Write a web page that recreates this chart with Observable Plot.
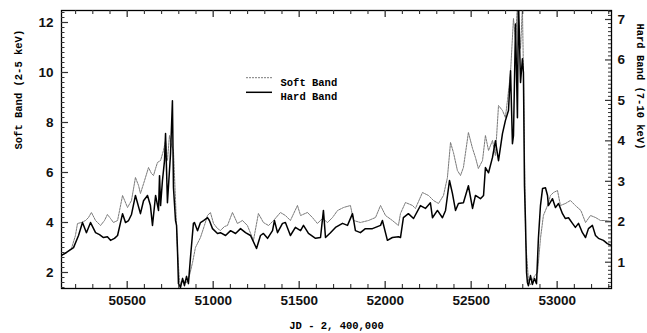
<!DOCTYPE html>
<html><head><meta charset="utf-8">
<script src="https://cdn.jsdelivr.net/npm/d3@7"></script>
<script src="https://cdn.jsdelivr.net/npm/@observablehq/plot@0.6"></script>
<style>body{margin:0;background:#fff} #chart svg{display:block}</style>
</head><body><div id="chart"></div>
<script>
// Soft band (2-5 keV), left axis
const jdSoft = [50118,50147,50176,50199,50211,50234,50258,50275,50292,50316,50345,50368,50385,50403,50420,50444,50473,50502,50525,50548,50566,50577,50601,50624,50641,50653,50665,50676,50694,50711,50723,50734,50746,50758,50769,50781,50792,50804,50810,50827,50845,50862,50880,50897,50926,50949,50967,50984,51002,51025,51042,51066,51083,51112,51141,51170,51199,51234,51263,51292,51322,51351,51391,51420,51449,51490,51508,51548,51577,51606,51635,51665,51694,51723,51758,51798,51816,51856,51903,51944,51973,52002,52042,52077,52089,52118,52159,52176,52217,52252,52281,52310,52339,52362,52380,52397,52420,52438,52455,52484,52508,52525,52542,52566,52583,52601,52624,52641,52659,52682,52699,52711,52729,52746,52758,52769,52787,52798,52804,52810,52816,52833,52845,52862,52886,52903,52920,52944,52961,52979,53002,53019,53048,53077,53106,53138,53165,53194,53223,53252,53281,53316];
const softFlux = [2.68,2.80,2.96,3.48,3.96,4.00,4.08,4.20,4.40,4.08,3.88,4.08,4.32,4.16,4.00,4.08,5.08,4.60,4.88,5.80,5.48,5.16,5.68,6.20,5.96,5.88,6.16,6.40,6.48,6.88,7.28,6.48,7.48,7.08,6.88,4.88,2.88,1.68,1.52,1.68,1.60,1.88,2.40,3.00,3.40,3.88,4.28,4.40,3.96,3.76,3.68,3.84,3.88,4.40,3.96,4.08,3.88,3.28,4.36,4.00,3.88,4.08,4.40,4.28,4.08,4.68,4.28,4.40,4.20,3.96,4.16,4.00,4.20,4.48,4.60,4.68,4.08,4.00,4.08,4.20,4.68,4.28,4.08,3.88,4.36,4.80,4.68,4.56,5.20,5.08,4.88,4.76,5.08,5.80,7.20,6.80,6.08,5.88,6.20,7.60,6.96,6.60,6.16,6.48,7.48,6.88,7.28,6.68,8.68,8.48,8.20,8.88,10.00,12.16,11.28,12.70,10.96,12.60,10.00,6.88,3.36,1.70,1.50,1.80,2.00,3.36,4.28,4.68,5.08,5.20,5.28,4.68,4.76,4.88,4.68,4.48,4.00,4.28,4.20,4.08,4.08,4.04];

// Hard band (7-10 keV), right axis
const jdHard = [50118,50147,50188,50217,50240,50263,50287,50316,50339,50362,50385,50403,50426,50444,50473,50490,50508,50525,50548,50577,50595,50618,50635,50647,50665,50682,50688,50694,50705,50717,50723,50734,50752,50763,50769,50781,50787,50792,50798,50810,50822,50833,50845,50856,50868,50885,50891,50909,50926,50944,50967,50978,50996,51025,51042,51072,51101,51130,51159,51188,51217,51252,51275,51292,51316,51345,51356,51374,51403,51420,51449,51478,51508,51525,51554,51595,51624,51641,51653,51682,51711,51752,51781,51810,51827,51856,51885,51926,51973,51984,52013,52042,52077,52089,52106,52135,52165,52205,52234,52263,52275,52304,52333,52351,52374,52391,52409,52426,52455,52484,52508,52525,52554,52572,52583,52601,52624,52641,52659,52682,52699,52717,52729,52740,52746,52758,52769,52775,52787,52798,52804,52810,52816,52822,52827,52833,52845,52856,52868,52880,52891,52903,52915,52932,52944,52949,52973,52990,53008,53031,53048,53066,53089,53106,53124,53147,53165,53182,53205,53223,53240,53269,53292,53316];
const hardFlux = [1.17,1.24,1.36,1.66,1.98,1.73,1.98,1.73,1.68,1.61,1.63,1.54,1.59,1.66,2.20,1.98,2.03,2.18,2.65,2.20,2.52,2.65,2.40,1.91,2.65,2.28,3.14,2.40,3.02,3.51,4.18,2.47,3.68,4.99,2.84,2.03,1.91,1.36,0.47,0.38,0.60,0.42,0.65,0.47,1.12,1.96,1.98,1.78,1.98,2.03,2.10,2.03,1.83,1.71,1.73,1.66,1.78,1.71,1.83,1.73,1.66,1.34,1.66,1.71,1.59,1.78,2.03,1.73,1.96,1.98,1.66,1.86,1.78,1.91,1.71,1.59,1.61,2.28,1.61,1.73,1.86,1.96,1.91,2.20,1.78,1.73,1.83,1.83,1.91,2.03,1.54,1.61,1.63,1.61,2.10,2.20,2.08,2.40,2.33,2.47,2.10,2.28,2.10,2.28,3.02,2.70,2.28,2.45,2.47,2.89,2.33,2.65,2.57,2.65,3.34,3.21,3.59,4.00,3.51,4.18,4.50,4.75,5.73,3.93,4.13,6.89,4.57,7.50,5.44,6.03,5.68,2.89,1.98,0.75,0.50,0.42,0.67,0.45,0.60,0.47,1.59,2.40,2.82,2.84,2.65,2.40,2.57,2.35,2.45,2.20,2.08,2.10,1.96,1.86,1.96,1.73,1.61,1.83,1.91,1.66,1.59,1.54,1.46,1.41];

const xTicks = [50500,51000,51500,52000,52500,53000];
const softTicks = [2,4,6,8,10,12];
const hardTicks = [1,2,3,4,5,6,7];
const xLabel = "JD - 2, 400,000";
const softLabel = "Soft Band (2-5 keV)";
const hardLabel = "Hard Band (7-10 keV)";
const legendNames = ["Soft Band","Hard Band"];

// linear mapping of the hard-band axis onto the soft-band (left) scale
const toSoft = h => 2.412 + 1.618*(h - 1);
const fromSoft = s => (s - 2.412)/1.618 + 1;

const softData = jdSoft.map((jd,i)=>({jd, v: softFlux[i]}));
const hardData = jdHard.map((jd,i)=>({jd, v: hardFlux[i]}));

const xMinor = d3.range(50200, 53301, 100).filter(v => v % 500 !== 0);
const softMinor = d3.range(14, 125, 2).map(v => v/10).filter(v => !softTicks.includes(v));
const hardMinor = d3.range(4, 73, 1).map(v => v/10).filter(v => !hardTicks.includes(v)).map(toSoft);

const W = 647, H = 333, mL = 61, mR = 36, mT = 10, mB = 45;
const fw = W - mL - mR, fh = H - mT - mB;
const mono = "'Liberation Mono', 'DejaVu Sans Mono', monospace";

const plot = Plot.plot({
  width: W, height: H,
  marginLeft: mL, marginRight: mR, marginTop: mT, marginBottom: mB,
  x: {domain: [50118, 53316]},
  y: {domain: [1.36, 12.48]},
  style: {fontFamily: "'Liberation Sans', Arial, sans-serif", background: "#fff", color: "#000", fontWeight: "bold"},
  marks: [
    Plot.line(softData, {x: "jd", y: "v", stroke: "#7a7a7a", strokeWidth: 1, strokeDasharray: "2,1", clip: true}),
    Plot.line(hardData, {x: "jd", y: d => toSoft(d.v), stroke: "#000", strokeWidth: 1.5, clip: true}),
    Plot.frame({stroke: "#000", strokeWidth: 1.3}),
    // x ticks (inward, bottom & top)
    Plot.tickX(xTicks, {x: d => d, insetTop: fh - 7, stroke: "#333", strokeWidth: 1.3}),
    Plot.tickX(xTicks, {x: d => d, insetBottom: fh - 7, stroke: "#333", strokeWidth: 1.3}),
    Plot.tickX(xMinor, {x: d => d, insetTop: fh - 4, stroke: "#333", strokeWidth: 1.1}),
    Plot.tickX(xMinor, {x: d => d, insetBottom: fh - 4, stroke: "#333", strokeWidth: 1.1}),
    // left y ticks
    Plot.tickY(softTicks, {y: d => d, insetRight: fw - 7, stroke: "#333", strokeWidth: 1.2}),
    Plot.tickY(softMinor, {y: d => d, insetRight: fw - 3.5, stroke: "#333", strokeWidth: 1}),
    // right y ticks
    Plot.tickY(hardTicks.map(toSoft), {y: d => d, insetLeft: fw - 6, stroke: "#333", strokeWidth: 1.2}),
    Plot.tickY(hardMinor, {y: d => d, insetLeft: fw - 3, stroke: "#333", strokeWidth: 1}),
    // tick labels
    Plot.axisX({ticks: xTicks, tickSize: 0, tickPadding: 7, tickFormat: d3.format("d"), label: null, fontSize: 13.5, fill: "#111"}),
    Plot.axisY({anchor: "left", ticks: softTicks, tickSize: 0, tickPadding: 8, tickFormat: d3.format("d"), label: null, fontSize: 13.5, fill: "#111"}),
    Plot.axisY({anchor: "right", ticks: hardTicks.map(toSoft), tickSize: 0, tickPadding: 6,
      tickFormat: d => d3.format("d")(Math.round(fromSoft(d))), label: null, fontSize: 13.5, fill: "#111"}),
    // axis titles
    Plot.text([softLabel], {text: d => d, frameAnchor: "left", dx: -43, rotate: -90, fontFamily: mono, fontSize: 10.5, fill: "#000"}),
    Plot.text([hardLabel], {text: d => d, frameAnchor: "right", dx: 29, rotate: 90, fontFamily: mono, fontSize: 10.5, fill: "#000"}),
    Plot.text([xLabel], {text: d => d, frameAnchor: "bottom", dy: 40, fontFamily: mono, fontSize: 10.5, fill: "#000"}),
    // legend labels
    Plot.text([legendNames[0]], {text: d => d, frameAnchor: "top-left", dx: 219, dy: 67.7, textAnchor: "start", fontFamily: mono, fontSize: 10.5, fill: "#000"}),
    Plot.text([legendNames[1]], {text: d => d, frameAnchor: "top-left", dx: 219, dy: 82.3, textAnchor: "start", fontFamily: mono, fontSize: 10.5, fill: "#000"})
  ]
});

// legend line samples
const svg = d3.select(plot);
svg.append("line").attr("x1", 246).attr("x2", 272).attr("y1", 77.7).attr("y2", 77.7)
  .attr("stroke", "#7a7a7a").attr("stroke-width", 1).attr("stroke-dasharray", "2,1");
svg.append("line").attr("x1", 246).attr("x2", 272).attr("y1", 92.3).attr("y2", 92.3)
  .attr("stroke", "#000").attr("stroke-width", 1.5);

document.getElementById("chart").append(plot);
</script></body></html>
